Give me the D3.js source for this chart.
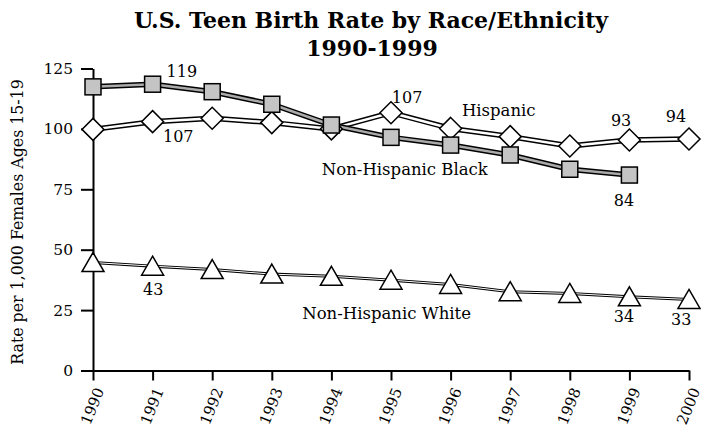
<!DOCTYPE html>
<html>
<head>
<meta charset="utf-8">
<script src="https://cdn.jsdelivr.net/npm/d3@7"></script>
<style>
  html, body { margin: 0; padding: 0; background: #fff; }
  svg { display: block; }
  text { font-family: 'DejaVu Serif', serif; fill: #000; }
</style>
</head>
<body>
<svg id="chart" width="705" height="427"></svg>
<script>
// ---- data ----
const years = [1990, 1991, 1992, 1993, 1994, 1995, 1996, 1997, 1998, 1999, 2000];
const blackYears = [1990, 1991, 1992, 1993, 1994, 1995, 1996, 1997, 1998, 1999];
const blackValues = [117.4, 118.5, 115.4, 110.2, 101.6, 96.5, 93.3, 89.2, 83.3, 80.9];
const hispanicValues = [99.8, 103.0, 104.4, 102.6, 100.0, 106.7, 100.2, 96.8, 92.9, 95.4, 95.8];
const whiteValues = [44.7, 43.2, 41.8, 39.9, 39.0, 37.4, 35.6, 32.6, 31.9, 30.5, 29.4];
const yTicks = [0, 25, 50, 75, 100, 125];
const xTicks = years;
const titleLines = ["U.S. Teen Birth Rate by Race/Ethnicity", "1990-1999"];
const yLabel = "Rate per 1,000 Females Ages 15-19";
// annotations anchored in data coordinates (year, rate)
const valueLabels = [
  { text: "119", year: 1991.49, rate: 121.5 },
  { text: "107", year: 1991.43, rate: 94.6 },
  { text: "107", year: 1995.27, rate: 110.7 },
  { text: "93", year: 1998.86, rate: 101.2 },
  { text: "94", year: 1999.78, rate: 102.9 },
  { text: "84", year: 1998.91, rate: 68.1 },
  { text: "43", year: 1991.01, rate: 31.2 },
  { text: "34", year: 1998.91, rate: 20.1 },
  { text: "33", year: 1999.87, rate: 18.8 }
];
const seriesLabels = [
  { text: "Hispanic", year: 1996.19, rate: 105.3 },
  { text: "Non-Hispanic Black", year: 1993.84, rate: 80.9 },
  { text: "Non-Hispanic White", year: 1993.51, rate: 21.3 }
];

// ---- layout ----
const svg = d3.select("#chart");
const x = d3.scaleLinear().domain([1990, 2000]).range([93, 689]);
const y = d3.scaleLinear().domain([0, 125]).range([370.5, 68.5]);

// title
svg.append("text")
  .attr("x", 371).attr("y", 28)
  .attr("text-anchor", "middle")
  .style("font-size", "22px").style("font-weight", "bold")
  .text(titleLines[0]);
svg.append("text")
  .attr("x", 372).attr("y", 56)
  .attr("text-anchor", "middle")
  .style("font-size", "22px").style("font-weight", "bold")
  .text(titleLines[1]);

// y label
svg.append("text")
  .attr("transform", "translate(23," + 222 + ") rotate(-90)")
  .attr("text-anchor", "middle")
  .style("font-size", "15.8px")
  .text(yLabel);

// axes
const yAxis = svg.append("g")
  .attr("transform", "translate(" + x(1990) + ",0)")
  .call(d3.axisLeft(y).tickValues(yTicks).tickSize(12).tickSizeOuter(0).tickPadding(8).tickFormat(d3.format("d")));
yAxis.selectAll("text").style("font-size", "15.5px").style("font-family", "'DejaVu Serif', serif");

const xAxis = svg.append("g")
  .attr("transform", "translate(0," + y(0) + ")")
  .call(d3.axisBottom(x).tickValues(xTicks).tickSize(10).tickSizeOuter(0).tickFormat(d3.format("d")));
xAxis.selectAll("text")
  .style("font-size", "15px").style("font-family", "'DejaVu Serif', serif")
  .attr("text-anchor", "end")
  .attr("x", null).attr("y", null).attr("dy", "0.35em")
  .attr("transform", "translate(6,18) rotate(-68)");

svg.selectAll(".domain, .tick line").attr("stroke", "#000").attr("stroke-width", 2);

// lines
const lineGen = d3.line().x(d => x(d[0])).y(d => y(d[1]));
const hispData = years.map((yr, i) => [yr, hispanicValues[i]]);
const blackData = blackYears.map((yr, i) => [yr, blackValues[i]]);
const whiteData = years.map((yr, i) => [yr, whiteValues[i]]);

function doubleLine(data, outerW, innerW, innerColor) {
  svg.append("path").datum(data).attr("d", lineGen)
    .attr("fill", "none").attr("stroke", "#000").attr("stroke-width", outerW).attr("stroke-linejoin", "round");
  svg.append("path").datum(data).attr("d", lineGen)
    .attr("fill", "none").attr("stroke", innerColor).attr("stroke-width", innerW).attr("stroke-linejoin", "round");
}
doubleLine(whiteData, 3, 1, "#fff");
doubleLine(hispData, 5.5, 2.5, "#fff");
doubleLine(blackData, 5.5, 2.5, "#aaa");

// markers
svg.append("g").selectAll("path").data(whiteData).join("path")
  .attr("d", d => {
    const cx = x(d[0]), cy = y(d[1]);
    return `M${cx},${cy - 10}L${cx + 11},${cy + 9}L${cx - 11},${cy + 9}Z`;
  })
  .attr("fill", "#fff").attr("stroke", "#000").attr("stroke-width", 1.5);

svg.append("g").selectAll("path").data(hispData).join("path")
  .attr("d", d => {
    const cx = x(d[0]), cy = y(d[1]);
    return `M${cx},${cy - 11}L${cx + 11},${cy}L${cx},${cy + 11}L${cx - 11},${cy}Z`;
  })
  .attr("fill", "#fff").attr("stroke", "#000").attr("stroke-width", 1.5);

svg.append("g").selectAll("rect").data(blackData).join("rect")
  .attr("x", d => x(d[0]) - 8).attr("y", d => y(d[1]) - 8)
  .attr("width", 16).attr("height", 16)
  .attr("fill", "#c4c4c4").attr("stroke", "#000").attr("stroke-width", 1.5);

// labels
svg.append("g").selectAll("text").data(valueLabels).join("text")
  .attr("x", d => x(d.year)).attr("y", d => y(d.rate))
  .attr("text-anchor", "middle")
  .style("font-size", "16px")
  .text(d => d.text);

svg.append("g").selectAll("text").data(seriesLabels).join("text")
  .attr("x", d => x(d.year)).attr("y", d => y(d.rate))
  .attr("text-anchor", "start")
  .style("font-size", "16.5px")
  .text(d => d.text);
</script>
</body>
</html>
